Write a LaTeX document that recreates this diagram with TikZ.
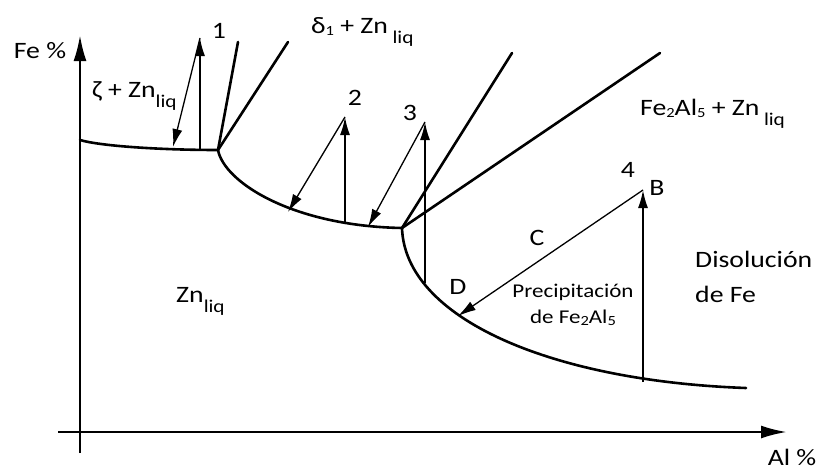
\documentclass[tikz,border=0pt]{standalone}
\usepackage{fontspec}
\setmainfont{Carlito}
\usetikzlibrary{arrows.meta}
\newcommand{\hs}[1]{\scalebox{1.18}[1]{#1}}
\newcommand{\lsub}[1]{\raisebox{-10pt}{\fontsize{18}{18}\selectfont #1}}
\newcommand{\dsub}[1]{\raisebox{-2pt}{\fontsize{14}{14}\selectfont #1}}
\begin{document}
\begin{tikzpicture}[x=1pt,y=-1pt,
  curve/.style={line width=2.6pt, line cap=round},
  axis/.style={line width=2.6pt, -{Latex[length=26pt,width=13pt]}},
  vup/.style={line width=1.8pt, -{Latex[length=18pt,width=10pt]}},
  diag/.style={line width=1.3pt, -{Latex[length=18pt,width=10pt]}},
  lbl/.style={font=\fontsize{23.5}{26}\selectfont, inner sep=0pt},
  small/.style={font=\fontsize{19.5}{22}\selectfont, inner sep=0pt}]
\useasboundingbox (0,0) rectangle (819,471);
% axes
\coordinate (yb) at (80,453);
\coordinate (yt) at (80,35);
\coordinate (xl) at (58,432);
\coordinate (xr) at (787,432);
\draw[axis] (yb) -- (yt);
\draw[axis] (xl) -- (xr);
% phase boundaries
\coordinate (o1) at (80,140);
\coordinate (k1) at (218,150);
\coordinate (k2) at (402,228);
\coordinate (e3) at (746,388);
\coordinate (l1) at (238,42);
\coordinate (l2) at (288,42);
\coordinate (l3) at (512,53);
\coordinate (l4) at (660,53);
\draw[curve] (o1) .. controls (100,146) and (160,150) .. (k1);
\draw[curve] (k1) .. controls (224,182) and (292,226) .. (k2);
\draw[curve] (k2) .. controls (405,318) and (550,381) .. (e3);
\draw[curve] (k1) -- (l1);
\draw[curve] (k1) -- (l2);
\draw[curve] (k2) -- (l3);
\draw[curve] (k2) -- (l4);
% arrows
\coordinate (b1) at (200,150); \coordinate (t1) at (200,38); \coordinate (d1) at (173,147);
\coordinate (b2) at (345,223); \coordinate (t2) at (345,117); \coordinate (d2) at (288,212);
\coordinate (b3) at (425,283); \coordinate (t3) at (425,122); \coordinate (d3) at (368,227);
\coordinate (b4) at (643,382); \coordinate (t4) at (643,190); \coordinate (d4) at (458,316);
\draw[vup] (b1) -- (t1);
\draw[diag] (t1) -- (d1);
\draw[vup] (b2) -- (t2);
\draw[diag] (t2) -- (d2);
\draw[vup] (b3) -- (t3);
\draw[diag] (t3) -- (d3);
\draw[vup] (b4) -- (t4);
\draw[diag] (t4) -- (d4);
% labels
\node[lbl] (fe) at (40,51) {\hs{Fe \%}};
\node[lbl] (al) at (792,457) {\hs{Al \%}};
\node[lbl] (n1) at (219,31) {\hs{1}};
\node[lbl] (n2) at (355,98) {\hs{2}};
\node[lbl] (n3) at (410,113) {\hs{3}};
\node[lbl] (n4) at (628,170) {\hs{4}};
\node[lbl] (pb) at (657,188) {\hs{B}};
\node[lbl] (pc) at (537,238) {\hs{C}};
\node[lbl] (pd) at (458,287) {\hs{D}};
\node[lbl, anchor=base west] (zeta) at (92,97) {\hs{ζ + Zn\lsub{liq}}};
\node[lbl, anchor=base west] (delta) at (311,33) {\hs{δ\dsub{1} + Zn\,\lsub{liq}}};
\node[lbl, anchor=base west] (fal) at (640,115) {\hs{Fe\dsub{2}Al\dsub{5} + Zn\,\lsub{liq}}};
\node[lbl, anchor=base west] (zn) at (176,302) {\hs{Zn\lsub{liq}}};
\node[lbl, anchor=base west] (dis1) at (695,267) {\hs{Disolución}};
\node[lbl, anchor=base west] (dis2) at (695,302) {\hs{de Fe}};
\node[small, anchor=base] (pr1) at (573,297) {\hs{Precipitación}};
\node[small, anchor=base] (pr2) at (573,323) {\hs{de Fe\dsub{2}Al\dsub{5}}};
\end{tikzpicture}
\end{document}
